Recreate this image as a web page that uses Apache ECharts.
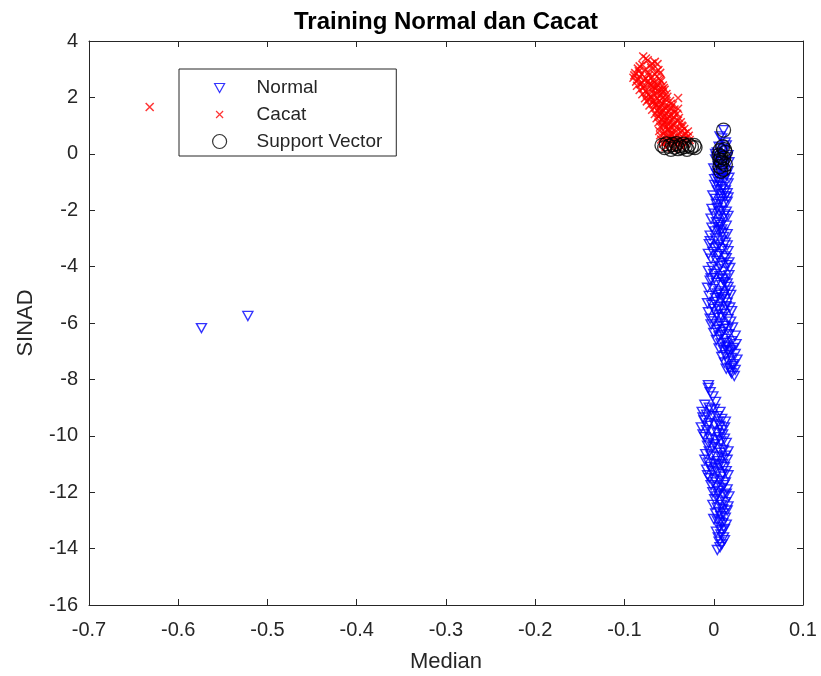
<!DOCTYPE html>
<html>
<head>
<meta charset="utf-8">
<script src="https://cdn.jsdelivr.net/npm/echarts@6/dist/echarts.min.js"></script>
<style>html,body{margin:0;padding:0;background:#fff}#c{width:821px;height:676px}</style>
</head>
<body>
<div id="c"></div>
<script>
const titleText = 'Training Normal dan Cacat';
const xName = 'Median';
const yName = 'SINAD';
const seriesNames = ['Normal', 'Cacat', 'Support Vector'];
const xTicks = [-0.7, -0.6, -0.5, -0.4, -0.3, -0.2, -0.1, 0, 0.1];
const yTicks = [-16, -14, -12, -10, -8, -6, -4, -2, 0, 2, 4];

const normalOutliers = [[-0.574,-6.18],[-0.522,-5.75]];
const normalUpper = [
[0.011,0.84],[0.009,0.55],[0.013,0.40],[0.006,0.25],[0.012,0.12],[0.004,0.05],[0.009,-0.05],[0.015,-0.12],[0.002,-0.20],[0.008,-0.28],[0.013,-0.36],[0.005,-0.45],[0.010,-0.55],[0.016,-0.62],[0.003,-0.70],[0.008,-0.80],[0.012,-0.90],[0.006,-1.00],[0.001,-1.10],[0.010,-1.18],[0.004,-1.30],[0.008,-1.42],[0.013,-1.50],[0.002,-1.60],[0.007,-1.70],[0.011,-1.80],[0.004,-1.92],[0.009,-2.02],[0.000,-2.12],[0.006,-2.22],[0.012,-2.30],[0.003,-2.42],[0.008,-2.52],[-0.002,-2.62],[0.005,-2.72],[0.010,-2.80],[-0.004,-2.90],[0.002,-3.00],[0.008,-3.08],[0.013,-3.15],[-0.005,-3.20],[0.004,-3.30],[0.010,-3.38],[-0.001,-3.48],[0.006,-3.56],[0.012,-3.64],[-0.003,-3.72],[0.003,-3.80],[0.009,-3.88],[0.014,-3.95],[-0.002,-4.02],[0.005,-4.10],[0.011,-4.18],[0.000,-4.26],[0.007,-4.34],[0.013,-4.42],[-0.004,-4.50],[0.003,-4.58],[0.009,-4.66],[0.016,-4.72],[-0.001,-4.80],[0.006,-4.88],[0.012,-4.96],[-0.005,-5.04],[0.002,-5.12],[0.008,-5.20],[0.015,-5.28],[-0.002,-5.36],[0.005,-5.44],[0.011,-5.52],[0.020,-5.58],[-0.006,-5.62],[0.003,-5.70],[0.009,-5.78],[0.016,-5.86],[0.000,-5.94],[0.007,-6.02],[0.013,-6.10],[0.021,-6.16],[0.003,-6.24],[0.010,-6.32],[0.017,-6.40],[0.006,-6.48],[0.013,-6.56],[0.020,-6.64],[0.008,-6.72],[0.015,-6.80],[0.022,-6.88],[0.011,-6.96],[0.018,-7.04],[0.013,-7.14],[0.020,-7.24],[0.016,-7.36],[0.022,-7.46],[0.018,-7.58],[0.024,-7.66],[0.020,-7.78],[0.023,-7.88],
[0.014,0.30],[0.003,-0.10],[0.017,-0.30],[0.000,-0.52],[0.014,-0.75],[0.016,-1.05],[0.013,-1.30],[-0.001,-1.48],[0.015,-1.70],[0.014,-2.05],[-0.003,-2.30],[0.014,-2.55],[0.011,-2.95],[0.016,-3.45],[-0.006,-3.55],[0.017,-3.85],[-0.006,-4.15],[0.017,-4.30],[0.015,-4.60],[-0.007,-4.75],[0.019,-5.00],[0.013,-5.15],[-0.007,-5.30],[0.018,-5.45],[-0.004,-5.85],[0.019,-5.95],[-0.003,-6.05],[0.000,-6.35],[0.024,-6.45],[0.003,-6.60],[0.025,-6.75],[0.006,-6.90],[0.024,-7.10],[0.009,-7.20],[0.012,-7.40],[0.026,-7.30],[0.014,-7.62],
[0.007,0.62],[0.010,0.18],[0.002,0.00],[0.016,-0.05],[0.006,-0.38],[0.011,-0.68],[0.004,-0.88],[0.009,-1.25],[0.015,-1.40],[0.003,-1.78],[0.012,-2.15],[0.006,-2.45],[0.001,-2.75],[0.015,-2.85],[0.006,-3.22],[0.001,-3.35],[0.014,-3.70],[0.007,-3.98],[0.001,-4.40],[0.012,-4.55],[0.004,-4.95],[0.010,-5.08],[0.014,-5.40],[0.000,-5.50],[0.012,-5.68],[0.006,-5.82],[0.016,-6.20],[0.004,-6.12],[0.008,-6.42],[0.014,-6.70],[0.019,-6.95],[0.016,-7.00],[0.021,-7.52],[0.019,-7.72],[0.001,-5.25],[0.018,-4.85],[-0.003,-4.42],[0.018,-4.05],[0.015,-3.25],[-0.004,-3.10],[0.005,-2.60],[0.016,-2.20],[-0.002,-1.95],[0.016,-1.55],[0.005,-1.15],[0.017,-0.85],[0.001,-0.90],[0.012,-0.25],[0.004,-0.60],[0.008,-1.60],[0.006,-2.05],[0.009,-2.68],[0.004,-3.62],[0.010,-4.45],[0.007,-5.00],[0.006,-5.56],[0.011,-6.22],[0.013,-6.85]
];
const normalLower = [
[-0.006,-8.20],[-0.006,-8.30],[-0.004,-8.45],[-0.001,-8.60],[0.002,-8.80],[-0.010,-8.90],[-0.005,-9.00],[0.001,-9.05],[-0.013,-9.15],[0.007,-9.15],[-0.008,-9.25],[-0.002,-9.30],[0.004,-9.30],[-0.012,-9.35],[0.009,-9.40],[-0.011,-9.45],[0.013,-9.50],[-0.005,-9.55],[0.001,-9.60],[0.007,-9.65],[-0.014,-9.70],[0.012,-9.70],[-0.008,-9.80],[-0.002,-9.85],[0.004,-9.90],[0.010,-9.95],[-0.010,-10.05],[-0.004,-10.10],[0.002,-10.15],[0.008,-10.20],[0.014,-10.25],[-0.007,-10.35],[-0.001,-10.40],[0.005,-10.45],[0.011,-10.50],[0.016,-10.55],[-0.009,-10.65],[-0.003,-10.70],[0.003,-10.75],[0.009,-10.80],[0.015,-10.85],[-0.006,-10.95],[0.000,-11.00],[0.006,-11.05],[0.012,-11.10],[-0.008,-11.20],[-0.002,-11.25],[0.004,-11.30],[0.010,-11.35],[0.016,-11.40],[-0.005,-11.50],[0.001,-11.55],[0.007,-11.60],[0.013,-11.65],[-0.003,-11.75],[0.003,-11.80],[0.009,-11.85],[0.015,-11.90],[-0.001,-12.00],[0.005,-12.05],[0.011,-12.10],[0.017,-12.15],[0.001,-12.25],[0.007,-12.30],[0.013,-12.35],[-0.001,-12.45],[0.004,-12.55],[0.010,-12.60],[0.015,-12.65],[0.002,-12.75],[0.008,-12.85],[0.013,-12.90],[0.004,-13.00],[0.010,-13.10],[0.006,-13.25],[0.012,-13.30],[0.003,-13.40],[0.008,-13.50],[0.011,-13.60],[0.006,-13.75],[0.009,-13.85],[0.004,-14.05],
[-0.003,-9.10],[0.005,-9.50],[-0.007,-9.65],[0.009,-9.80],[-0.012,-9.95],[0.006,-10.05],[0.012,-10.10],[-0.006,-10.25],[0.001,-10.30],[0.008,-10.60],[-0.005,-10.55],[0.013,-10.70],[-0.010,-10.85],[0.004,-10.90],[0.010,-11.00],[-0.004,-11.10],[0.002,-11.15],[0.014,-11.25],[-0.007,-11.40],[0.008,-11.45],[-0.001,-11.65],[0.011,-11.75],[0.005,-11.95],[0.014,-12.05],[0.003,-12.15],[0.009,-12.45],[0.016,-12.50],[0.006,-12.70],[0.011,-12.75],[0.000,-12.95],[0.007,-13.05],[0.014,-13.15],[0.009,-13.35],[0.005,-13.60],[0.012,-13.70],[0.007,-13.95]
];
const cacatOutliers = [[-0.632,1.66]];
const cacatMain = [
[-0.079,3.45],[-0.074,3.32],[-0.066,3.26],[-0.080,3.16],[-0.071,3.13],[-0.063,3.18],[-0.085,3.02],[-0.077,2.98],[-0.070,3.04],[-0.062,2.97],
[-0.088,2.86],[-0.081,2.83],[-0.073,2.88],[-0.066,2.82],[-0.060,2.87],[-0.090,2.70],[-0.083,2.73],[-0.076,2.68],[-0.069,2.72],[-0.061,2.67],
[-0.087,2.56],[-0.080,2.52],[-0.074,2.58],[-0.067,2.53],[-0.059,2.57],[-0.086,2.41],[-0.078,2.38],[-0.071,2.43],[-0.064,2.37],[-0.057,2.42],
[-0.083,2.26],[-0.076,2.23],[-0.069,2.28],[-0.062,2.22],[-0.055,2.27],[-0.080,2.11],[-0.073,2.08],[-0.067,2.13],[-0.060,2.07],[-0.053,2.12],
[-0.040,1.98],[-0.077,1.97],[-0.070,2.00],[-0.063,1.95],[-0.057,1.99],[-0.075,1.86],[-0.068,1.83],[-0.061,1.88],[-0.055,1.82],[-0.049,1.87],
[-0.072,1.71],[-0.065,1.68],[-0.059,1.73],[-0.052,1.67],[-0.046,1.72],[-0.069,1.56],[-0.063,1.53],[-0.057,1.58],[-0.050,1.52],[-0.044,1.57],
[-0.066,1.41],[-0.060,1.38],[-0.054,1.43],[-0.048,1.37],[-0.041,1.42],[-0.064,1.26],[-0.058,1.23],[-0.052,1.28],[-0.046,1.22],[-0.039,1.27],
[-0.062,1.11],[-0.056,1.08],[-0.050,1.13],[-0.044,1.07],[-0.037,1.12],[-0.060,0.96],[-0.054,0.93],[-0.048,0.98],[-0.042,0.92],[-0.035,0.97],
[-0.061,0.81],[-0.055,0.78],[-0.049,0.83],[-0.043,0.77],[-0.036,0.82],[-0.029,0.79],[-0.060,0.66],[-0.053,0.63],[-0.047,0.68],[-0.041,0.62],[-0.034,0.67],[-0.028,0.64],
[-0.059,0.51],[-0.052,0.48],[-0.046,0.53],[-0.040,0.47],[-0.033,0.52],[-0.027,0.49],[-0.057,0.36],[-0.050,0.33],[-0.044,0.38],[-0.038,0.32],[-0.031,0.37],
[-0.054,0.23],[-0.047,0.20],[-0.041,0.25],[-0.035,0.22],
[-0.084,2.93],[-0.078,2.62],[-0.072,2.47],[-0.065,2.32],[-0.058,2.17],[-0.073,1.93],[-0.066,1.77],[-0.054,1.61],[-0.061,1.46],[-0.050,1.33],[-0.057,1.17],[-0.045,1.02],[-0.051,0.88],[-0.039,0.72],[-0.045,0.57],[-0.053,0.42],[-0.036,0.42],
[-0.089,2.78],[-0.085,2.63],[-0.082,2.47],[-0.079,2.33],[-0.075,2.17],[-0.071,2.05],[-0.068,1.90],[-0.064,1.75],[-0.061,1.63],[-0.058,1.48],[-0.055,1.33],[-0.053,1.18],[-0.051,1.02],[-0.050,0.87],[-0.048,0.73],[-0.051,0.58],[-0.043,0.45],[-0.030,0.58],[-0.033,0.88],[-0.040,1.18],[-0.044,1.47],[-0.048,1.77],[-0.052,2.02],[-0.056,2.33],[-0.060,2.62],[-0.064,2.92],[-0.069,3.20],[-0.076,3.38],[-0.083,3.10],[-0.073,2.78],[-0.068,2.60],[-0.063,2.45],[-0.068,2.38],[-0.058,2.27],[-0.064,2.13],[-0.054,1.94],[-0.058,1.80],[-0.048,1.62],[-0.040,1.60],[-0.045,1.30],[-0.036,1.00],[-0.032,0.72],[-0.037,0.55],[-0.056,0.70],[-0.057,1.00],[-0.062,1.32]
];
const supportVectors = [
[-0.058,0.30],[-0.055,0.22],[-0.053,0.35],[-0.050,0.27],[-0.048,0.16],[-0.046,0.33],[-0.044,0.24],[-0.042,0.36],[-0.040,0.18],[-0.038,0.29],[-0.036,0.22],[-0.034,0.34],[-0.032,0.26],[-0.030,0.16],[-0.028,0.31],[-0.025,0.24],[-0.022,0.30],[-0.021,0.22],
[0.011,0.84],[0.010,0.25],[0.007,0.12],[0.013,0.05],[0.006,-0.05],[0.011,-0.15],[0.007,-0.22],[0.009,-0.30],[0.013,-0.38],[0.007,-0.45],[0.011,-0.55],[0.008,-0.62],[0.008,-0.10],[0.012,0.15]
];

const normalData = normalOutliers.concat(normalUpper, normalLower);
const cacatData = cacatOutliers.concat(cacatMain);

const txt = '#262626';
const font = '"Liberation Sans", Arial, sans-serif';
const chart = echarts.init(document.getElementById('c'), null, {renderer: 'canvas'});
const triPath = 'path://M0,0L10,0L5,9Z';
const crossPath = 'path://M0,0L10,10M10,0L0,10';
// legend icons: invisible move-to points set a 14x14 box so each glyph keeps its own size
const triIcon = 'path://M0,0M14,14M2,3L12,3L7,12Z';
const crossIcon = 'path://M0,0M14,14M3.5,3.5L10.5,10.5M10.5,3.5L3.5,10.5';

const axisCommon = {
  axisLine: {show: true, onZero: false, lineStyle: {color: txt, width: 1}},
  axisTick: {show: true, inside: true, length: 6, lineStyle: {color: txt}},
  splitLine: {show: false}
};

chart.setOption({
  animation: false,
  backgroundColor: '#fff',
  title: {
    text: titleText, left: 441, top: 5, textAlign: 'center',
    textStyle: {fontFamily: font, fontSize: 24, fontWeight: 'bold', color: '#000'}
  },
  grid: {left: 89, right: 18, top: 41, bottom: 71, containLabel: false, outerBoundsMode: 'none'},
  legend: {
    orient: 'vertical', left: 179, top: 69,
    data: [
      {name: seriesNames[0], icon: triIcon},
      {name: seriesNames[1], icon: crossIcon},
      {name: seriesNames[2], icon: 'circle'}
    ],
    itemWidth: 14, itemHeight: 14, itemGap: 8,
    padding: [9, 14, 5, 33],
    borderColor: '#262626', borderWidth: 1,
    backgroundColor: '#fff',
    itemStyle: {borderWidth: 1.2},
    textStyle: {fontFamily: font, fontSize: 19, color: txt, padding: [0, 0, 0, 25]}
  },
  xAxis: [
    Object.assign({
      type: 'value', min: xTicks[0], max: xTicks[xTicks.length - 1], interval: 0.1,
      position: 'bottom',
      name: xName, nameLocation: 'middle', nameGap: 46,
      nameTextStyle: {fontFamily: font, fontSize: 22, color: txt},
      axisLabel: {fontFamily: font, fontSize: 20, color: txt, margin: 15,
        formatter: v => String(Math.round(v * 10) / 10)}
    }, axisCommon),
    Object.assign({
      type: 'value', min: xTicks[0], max: xTicks[xTicks.length - 1], interval: 0.1,
      position: 'top', axisLabel: {show: false}
    }, axisCommon)
  ],
  yAxis: [
    Object.assign({
      type: 'value', min: yTicks[0], max: yTicks[yTicks.length - 1], interval: 2,
      position: 'left',
      name: yName, nameLocation: 'middle', nameGap: 52,
      nameTextStyle: {fontFamily: font, fontSize: 22, color: txt},
      axisLabel: {fontFamily: font, fontSize: 20, color: txt, margin: 11}
    }, axisCommon),
    Object.assign({
      type: 'value', min: yTicks[0], max: yTicks[yTicks.length - 1], interval: 2,
      position: 'right', axisLabel: {show: false}
    }, axisCommon)
  ],
  series: [
    {
      name: seriesNames[0], type: 'scatter', data: normalData,
      symbol: triPath, symbolSize: [10, 9],
      itemStyle: {color: 'rgba(0,0,0,0)', borderColor: '#0000ff', borderWidth: 1.4},
      z: 2
    },
    {
      name: seriesNames[1], type: 'scatter', data: cacatData,
      symbol: crossPath, symbolSize: 8,
      itemStyle: {color: 'rgba(0,0,0,0)', borderColor: '#ff0000', borderWidth: 1.5},
      z: 3
    },
    {
      name: seriesNames[2], type: 'scatter', data: supportVectors,
      symbol: 'circle', symbolSize: 14,
      itemStyle: {color: 'rgba(0,0,0,0)', borderColor: '#000000', borderWidth: 1.3},
      z: 4
    }
  ]
});
</script>
</body>
</html>
